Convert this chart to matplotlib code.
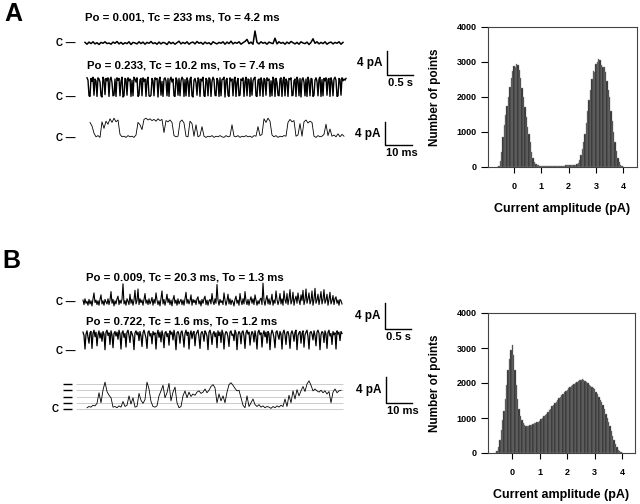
import matplotlib
matplotlib.use('Agg')
import matplotlib.pyplot as plt
import numpy as np

plt.rcParams['font.family'] = ['Liberation Sans', 'DejaVu Sans']
plt.rcParams['font.weight'] = 'bold'
plt.rcParams['axes.labelweight'] = 'bold'

W, H = 640, 504

# ---- panel A traces (pA) ----
a1_title = 'Po = 0.001, Tc = 233 ms, To = 4.2 ms'
a1_trace = [0.1, -0.2, 0.15, -0.1, 0.2, -0.15, 0.05, -0.25, 0.1, -0.05,
            0.2, -0.1, 0.0, -0.2, 0.15, -0.05, 0.25, -0.15, 0.1, -0.2,
            0.05, -0.1, 0.2, -0.25, 0.1, 0.0, -0.15, 0.2, -0.1, 0.15,
            -0.2, 0.1, -0.05, 0.25, -0.1, 0.05, -0.2, 0.15, -0.15, 0.1,
            0.0, -0.25, 0.2, -0.1, 0.1, -0.2, 0.05, 0.3, -0.15, 0.1,
            -0.1, 0.2, -0.2, 0.05, 0.15, -0.15, 0.25, -0.05, 0.1, -0.2,
            0.15, -0.1, 0.05, -0.25, 0.2, 0.0, -0.15, 0.1, -0.05, 0.2,
            -0.2, 0.15, -0.1, 0.3, -0.15, 0.1, -0.05, 0.2, -0.2, 0.05,
            0.25, 0.6, -0.1, 0.15, -0.2, 2.0, 0.1, -0.15, 0.2, -0.05,
            0.1, -0.2, 0.15, 0.0, -0.1, 0.8, -0.15, 0.2, -0.05, 0.1,
            -0.2, 0.15, -0.1, 0.25, 0.05, -0.15, 0.1, -0.2, 0.2, 0.0,
            -0.1, 0.15, -0.25, 0.1, 0.7, -0.05, 0.2, -0.15, 0.1, -0.1,
            0.2, -0.2, 0.05, 0.15, -0.15, 0.1, -0.05, 0.2, -0.2, 0.1]

a2_title = 'Po = 0.233, Tc = 10.2 ms, To = 7.4 ms'
a2_trace = [3.2, 2.8, 0.2, 0.1, 3.1, 2.6, 3.3, 0.3, 3.0, 2.7, 0.1, 3.2, 3.0, 2.5, 0.2, 0.0, 3.3, 2.9, 0.4, 3.1,
            2.7, 3.2, 0.1, 2.9, 3.3, 2.4, 0.2, 0.3, 3.0, 0.1, 3.2, 2.8, 3.1, 0.2, 2.6, 3.3, 0.0, 0.2, 3.1, 2.9,
            0.3, 3.2, 2.7, 3.0, 0.1, 2.8, 0.2, 3.3, 3.0, 2.5, 3.2, 0.1, 0.3, 2.9, 3.1, 0.2, 3.2, 2.6, 3.0, 0.1,
            2.8, 3.3, 0.2, 0.1, 0.3, 3.1, 2.7, 0.2, 3.2, 2.9, 3.1, 0.0, 2.8, 3.3, 0.3, 2.6, 0.1, 3.0, 3.2, 2.7,
            0.2, 3.1, 0.1, 2.9, 3.3, 2.5, 3.0, 0.2, 0.1, 3.2, 2.8, 0.3, 3.1, 0.2, 2.7, 3.3, 3.0, 0.1, 2.9, 0.2,
            3.2, 2.6, 0.1, 3.0, 3.3, 0.2, 0.0, 2.8, 3.1, 2.4, 0.3, 3.2, 2.9, 0.1, 3.0, 2.7, 3.3, 0.2, 0.1, 3.1,
            2.8, 0.2, 3.2, 3.0, 0.1, 2.6, 3.3, 2.9, 0.3, 0.2, 3.1, 2.7, 0.1, 3.2, 0.2, 2.9, 3.0, 3.3, 0.0, 2.8,
            3.1, 0.3, 0.1, 3.2, 2.7, 3.0, 0.2, 2.9, 3.3, 0.1, 2.5, 3.1, 0.2, 0.3, 3.0, 2.8, 3.2, 0.1, 2.6, 3.3,
            0.2, 3.0, 2.9, 0.1, 3.2, 0.3, 2.7, 3.1, 3.3, 0.2, 0.1, 2.8, 3.0, 0.2, 3.2, 2.6, 0.1, 3.1, 2.9, 0.3,
            3.2, 2.8, 3.0, 0.1, 2.7, 0.2, 3.3, 2.9, 0.1, 3.1, 2.4, 0.3, 0.2, 3.0, 3.2, 0.1, 2.8, 3.3, 0.2, 3.0,
            2.6, 0.1, 3.1, 2.9, 3.2, 0.2, 0.3, 2.7, 3.0, 0.1, 3.3, 2.8, 0.2, 3.1, 0.0, 2.9, 3.2, 2.5, 0.2, 3.0,
            0.1, 3.3, 2.7, 0.2, 3.1, 3.0, 0.1, 0.3, 2.8, 3.2, 2.6, 0.2, 3.0, 3.3, 0.1, 2.9, 0.2, 3.1, 2.7, 3.2,
            0.3, 2.9, 3.1, 0.1, 3.2, 2.6, 0.2, 3.0, 3.3, 2.8, 0.1, 0.2, 3.1, 2.9, 0.3, 3.2, 2.7, 3.0, 2.8, 3.1]

a3_trace = [2.6, 2.0, 0.8, 0.2, 0.4, 0.1, 2.7, 1.6, 2.8, 2.3,
            3.2, 2.6, 3.3, 2.7, 3.0, 0.6, 0.2, 0.3, 0.1, 0.4,
            0.2, 0.3, 0.1, 0.5, 2.6, 2.2, 1.4, 3.1, 3.3, 3.0,
            3.2, 2.9, 3.1, 2.8, 3.2, 2.9, 3.1, 0.9, 2.9, 2.7,
            3.0, 2.6, 0.4, 0.2, 0.3, 2.7, 3.0, 2.5, 0.3, 0.2,
            2.8, 2.4, 0.3, 2.2, 0.2, 0.4, 1.9, 0.3, 0.1, 0.3,
            0.2, 0.4, 0.1, 0.3, 0.2, 0.4, 0.2, 0.1, 0.4, 0.2,
            0.3, 2.2, 0.3, 0.2, 0.4, 0.1, 0.3, 0.2, 0.4, 0.2,
            0.3, 0.1, 0.4, 0.3, 1.9, 0.4, 0.6, 3.2, 2.6, 3.3,
            2.8, 0.5, 0.2, 0.4, 0.1, 0.3, 0.2, 0.4, 0.3, 2.6,
            3.1, 2.7, 2.9, 0.3, 0.5, 2.4, 0.3, 2.7, 3.0, 2.5,
            2.8, 2.6, 0.3, 0.1, 0.4, 0.2, 0.3, 0.6, 2.3, 0.4,
            1.5, 0.3, 0.5, 0.2, 0.7, 0.2, 0.6, 0.3]

# ---- panel B traces (pA) ----
b1_title = 'Po = 0.009, Tc = 20.3 ms, To = 1.3 ms'
b1_trace = [0.3, -0.4, 0.5, -0.2, 0.1, -0.5, 0.4, -0.3, 0.2, -0.6, 0.5, 1.4, -0.1, 0.3, -0.4, 0.2, -0.5, 0.4, 1.1, -0.3,
            0.2, -0.5, 0.4, 0.0, -0.3, 0.5, -0.4, 0.3, 1.6, -0.2, 0.4, -0.6, 0.2, -0.3, 0.5, 0.9, -0.4, 0.3, -0.2, 0.4,
            2.8, -0.3, 0.2, -0.5, 0.5, 0.1, -0.4, 1.2, -0.2, 0.4, -0.5, 0.3, 1.8, -0.3, 0.2, 2.0, -0.4, 0.5, -0.1, 0.3,
            -0.5, 0.4, 1.3, -0.2, 0.3, -0.4, 0.5, -0.3, 0.1, 0.7, -0.5, 0.4, -0.2, 1.4, 0.3, -0.4, 0.2, -0.6, 0.5, 1.7,
            -0.3, 0.4, -0.5, 0.2, 1.2, -0.1, 0.5, -0.4, 0.3, -0.6, 0.4, 1.0, -0.2, 0.3, -0.5, 0.5, -0.3, 0.1, 0.4, -0.4,
            0.3, -0.5, 0.5, 1.5, -0.2, 0.4, -0.3, 0.2, 1.1, -0.5, 0.4, -0.1, 0.3, -0.4, 0.5, 0.8, -0.3, 0.2, -0.6, 0.4,
            -0.2, 0.5, 0.9, -0.4, 0.3, -0.5, 0.2, 0.4, -0.3, 1.3, 0.1, -0.4, 0.5, -0.2, 2.7, 0.3, -0.5, 0.4, -0.1, 0.2,
            -0.4, 1.4, 0.3, -0.5, 0.2, 1.2, -0.3, 0.5, -0.4, 0.3, 0.0, -0.6, 0.4, 0.9, -0.2, 0.3, -0.5, 1.3, 0.2, -0.4,
            0.5, -0.3, 1.6, 0.2, -0.4, 0.4, -0.5, 0.3, 0.8, -0.2, 0.5, -0.4, 1.1, 0.3, -0.5, 0.2, -0.3, 0.4, 0.6, -0.4,
            2.9, 0.2, -0.5, 0.4, 1.0, -0.3, 0.5, -0.4, 0.2, 1.2, -0.5, 0.3, -0.2, 1.7, 0.4, -0.4, 0.2, 1.3, -0.3, 0.5,
            -0.5, 1.7, 0.3, -0.2, 1.3, -0.4, 0.5, 1.9, -0.3, 0.2, 1.5, -0.5, 0.4, 0.9, -0.2, 1.4, 0.3, -0.4, 1.1, 0.2,
            1.8, -0.4, 0.3, 2.0, -0.2, 0.5, 1.4, -0.3, 0.2, 1.7, -0.5, 0.4, 2.1, -0.2, 0.3, 1.2, -0.4, 0.5, 1.6, -0.3,
            0.4, 1.9, -0.2, 0.3, 1.2, -0.5, 0.4, 1.5, -0.3, 0.2, 1.0, -0.4, 0.5, 0.8, -0.2, 0.3, -0.5, 0.4, 0.2, -0.3]

b2_title = 'Po = 0.722, Tc = 1.6 ms, To = 1.2 ms'
b2_trace = [2.9, 2.4, 0.3, 2.6, 3.1, 2.2, 1.2, 2.8, 3.0, 0.4, 2.7, 3.2, 2.2, 2.9, 0.8, 2.5, 3.1, 2.0, 2.8, 1.5,
            3.0, 2.6, 0.2, 2.9, 3.2, 2.4, 2.8, 1.0, 3.1, 2.5, 0.5, 2.7, 3.0, 2.3, 2.9, 1.8, 3.2, 2.6, 0.3, 2.8,
            3.1, 2.1, 2.7, 0.6, 2.9, 3.2, 2.4, 1.3, 3.0, 2.7, 2.2, 0.2, 2.8, 3.1, 2.5, 2.9, 1.6, 3.0, 2.3, 0.7,
            2.8, 3.2, 2.6, 2.0, 0.4, 2.9, 3.1, 2.3, 2.7, 1.1, 3.0, 2.5, 2.8, 0.3, 2.6, 3.2, 2.1, 2.9, 1.4, 3.1,
            2.4, 0.5, 2.8, 3.0, 2.2, 2.7, 0.9, 3.1, 2.6, 2.9, 1.7, 3.2, 2.3, 0.2, 2.8, 3.0, 2.5, 1.2, 2.9, 3.1,
            2.2, 0.6, 2.7, 3.2, 2.4, 2.9, 0.3, 2.6, 3.1, 1.9, 2.8, 3.0, 0.8, 2.5, 2.9, 3.2, 2.1, 0.4, 2.7, 3.0,
            2.6, 1.5, 3.1, 2.8, 2.3, 0.2, 2.9, 3.2, 2.5, 1.0, 2.7, 3.0, 2.2, 2.8, 0.5, 3.1, 2.4, 2.9, 1.3, 3.2,
            2.7, 0.3, 2.5, 3.0, 2.8, 2.1, 0.7, 2.9, 3.1, 2.4, 2.6, 1.6, 3.2, 2.8, 0.2, 2.5, 3.0, 2.7, 1.1, 2.9,
            3.1, 2.3, 0.4, 2.8, 3.2, 2.6, 2.9, 0.9, 2.4, 3.0, 2.7, 1.4, 3.1, 2.2, 0.3, 2.9, 3.2, 2.5, 2.8, 0.6,
            2.6, 3.1, 2.2, 2.9, 1.2, 3.0, 2.7, 0.2, 2.5, 3.2, 2.8, 2.0, 0.5, 2.9, 3.1, 2.4, 1.8, 3.0, 2.6, 0.3,
            2.8, 3.2, 2.5, 1.0, 2.9, 3.0, 2.3, 0.4, 2.7, 3.1, 2.6, 1.5, 2.9, 3.2, 0.2, 2.4, 2.8, 3.0, 1.2, 2.7,
            3.1, 0.6, 2.5, 2.9, 3.2, 2.2, 0.3, 2.8, 3.0, 2.6, 1.7, 3.1, 2.4, 0.8, 2.9, 3.2, 2.7, 0.2, 2.5, 3.0,
            2.8, 1.3, 3.1, 2.6, 0.4, 2.9, 3.2, 2.3, 2.7, 1.0, 3.0, 2.5, 2.8, 0.3, 3.1, 2.6, 2.9, 1.6, 3.0, 2.7]

b3_trace = [0.2, 0.4, 0.3, 0.6, 0.5, 0.9, 2.6, 1.0, 3.0, 4.3,
            2.8, 2.2, 1.8, 0.3, 0.4, 0.2, 0.5, 0.3, 1.2, 0.4,
            0.6, 2.1, 0.8, 1.8, 0.3, 0.4, 2.5, 1.4, 0.9, 1.5,
            4.3, 3.2, 1.2, 0.4, 0.3, 0.5, 2.1, 2.9, 3.8, 1.8,
            2.6, 4.1, 1.3, 2.7, 3.5, 1.0, 0.2, 0.4, 2.1, 2.9,
            1.8, 2.7, 2.0, 2.4, 2.2, 2.7, 2.9, 2.5, 2.7, 3.2,
            2.6, 3.0, 3.6, 3.9, 3.4, 1.0, 2.4, 1.3, 2.1, 1.0,
            2.7, 3.9, 4.2, 3.8, 3.3, 2.9, 3.0, 1.8, 0.6, 0.2,
            2.1, 0.4, 1.0, 1.6, 0.7, 0.4, 0.7, 0.3, 0.5, 0.2,
            0.4, 0.3, 0.1, 0.4, 0.2, 0.5, 0.3, 0.6, 0.4, 1.6,
            0.4, 2.2, 1.0, 2.9, 1.6, 3.1, 2.1, 2.9, 3.6, 2.8,
            4.0, 4.5, 3.8, 2.9, 3.2, 2.9, 2.7, 3.0, 2.6, 2.9,
            2.4, 2.8, 1.0, 2.7, 3.2, 2.6, 2.9, 3.0]
b3_levels = [0, 1, 2, 3, 4]

# ---- all-points histograms, bins of 0.05 pA from -0.6 to 4.0 ----
hist_step = 0.05
hist_a = [0, 40, 180, 420, 850, 1200, 1480, 1750, 2000, 2280,
          2550, 2750, 2880, 2850, 2950, 2900, 2780, 2550, 2250, 2000,
          1700, 1420, 1150, 950, 700, 420, 260, 150, 90, 60, 45,
          40, 38, 36, 35, 34, 33, 33, 32, 33, 34, 33, 35, 34, 36, 35,
          37, 38, 40, 41, 43, 45, 47, 50, 54, 58, 63, 70,
          80, 120, 200, 330, 500, 720, 950, 1250, 1600, 1900,
          2200, 2500, 2750, 2700, 2950, 3000, 3080, 3050, 2900, 2850,
          2850, 2700, 2450, 2200, 2000, 1600, 1300, 1000, 700, 450,
          260, 130, 60, 20, 0]
hist_b = [0, 60, 170, 380, 650, 950, 1200, 1550, 1950, 2370,
          2700, 2950, 3100, 2800, 2370, 1950, 1550, 1250, 1050, 930,
          860, 810, 780, 770,
          770, 790, 800, 830, 850, 870, 880, 900, 920, 960,
          1000, 1050, 1080, 1120, 1170, 1220, 1270, 1330, 1380, 1430,
          1470, 1520, 1560, 1600, 1650, 1700, 1740, 1770, 1800, 1850,
          1880, 1920, 1950, 1980, 2000, 2030, 2060, 2080, 2100, 2110,
          2090, 2060, 2030, 1990, 1950, 1920, 1880,
          1850, 1820, 1750, 1680, 1600, 1520, 1450, 1380, 1250, 1120,
          1000, 900, 760, 620, 480, 360, 250, 160, 100, 50, 15, 0]
hist_x = np.round(-0.6 + hist_step * np.arange(len(hist_a)), 2)

fig = plt.figure(figsize=(6.4, 5.04), dpi=100)


def px_axes(x0, y0, x1, y1):
    # axes given in pixel coords of the 640x504 picture (y downwards)
    return fig.add_axes([x0 / W, 1 - y1 / H, (x1 - x0) / W, (y1 - y0) / H])


def fig_text(x, y, s, **kw):
    fig.text(x / W, 1 - y / H, s, **kw)


def draw_trace(vals, dt, x0, x1, y_base, ppa, lw=0.8, c_label=True, c_x=75):
    ax = px_axes(x0, y_base - 34, x1, y_base + 8)
    t = np.arange(len(vals)) * dt
    ax.plot(t, vals, color='black', lw=lw, clip_on=False)
    ax.set_xlim(0, t[-1])
    ax.set_ylim(-8 / ppa, 34 / ppa)
    ax.axis('off')
    if c_label:
        fig_text(c_x, y_base, 'C \u2014', ha='right', va='center', fontsize=7)
    return ax


def scale_bar(x0, y_bottom, w_px, h_px, xval, yval, xtxt, ytxt):
    ax = px_axes(x0, y_bottom - h_px, x0 + w_px, y_bottom)
    ax.plot([0, 0, xval], [yval, 0, 0], color='black', lw=1.0, clip_on=False)
    ax.set_xlim(0, xval)
    ax.set_ylim(0, yval)
    ax.axis('off')
    ax.annotate(ytxt, (0, yval / 2), xytext=(-3, 0), textcoords='offset points',
                ha='right', va='center', fontsize=8.5)
    ax.annotate(xtxt, (0, 0), xytext=(1, -2.5), textcoords='offset points',
                ha='left', va='top', fontsize=8)


def histogram(rect, counts, xlim):
    ax = px_axes(*rect)
    ax.bar(hist_x, counts, width=hist_step, color='#2a2a2a',
           edgecolor='#8a8a8a', linewidth=0.3)
    ax.set_xlim(*xlim)
    ax.set_ylim(0, 4000)
    ax.set_xticks([0, 1, 2, 3, 4])
    ax.set_yticks([0, 1000, 2000, 3000, 4000])
    for s in ax.spines.values():
        s.set_color('#444444')
        s.set_linewidth(0.8)
    ax.tick_params(axis='x', length=4, width=0.8, pad=6.5, labelsize=6.5)
    ax.tick_params(axis='y', length=5, width=0.8, pad=3, labelsize=6.5)
    ax.set_ylabel('Number of points', fontsize=8.5)
    ax.set_xlabel('Current amplitude (pA)', fontsize=9)
    w = rect[2] - rect[0]
    h = rect[3] - rect[1]
    ax.yaxis.set_label_coords(-47 / w, 0.5)
    ax.xaxis.set_label_coords(0.5, -36 / h)
    return ax


def main():
    fs_title = 8.2
    # panel letters
    fig_text(4, 14, 'A', fontsize=18, ha='left', va='center')
    fig_text(2, 261, 'B', fontsize=18, ha='left', va='center')

    # --- panel A ---
    dt_s = 0.5 / 26 * 2
    dt_1px = 0.5 / 26
    fig_text(85, 17, a1_title, fontsize=fs_title, va='center')
    draw_trace(a1_trace, dt_s, 85, 343, 43, 6.0, lw=1.1)
    fig_text(87, 66, a2_title, fontsize=fs_title, va='center')
    draw_trace(a2_trace, dt_1px, 87, 346, 97, 6.0, lw=1.0)
    draw_trace(a3_trace, 10 / 27 * 2, 90, 344, 138, 6.0, lw=0.6, c_x=75)
    scale_bar(387, 75, 26, 24, 0.5, 4, '0.5 s', '4 pA')
    scale_bar(385, 145, 27, 23, 10, 4, '10 ms', '4 pA')
    histogram((488, 27, 637, 167), hist_a, (-0.95, 4.5))

    # --- panel B ---
    fig_text(86, 278, b1_title, fontsize=fs_title, va='center')
    draw_trace(b1_trace, dt_1px, 83, 342, 302, 6.5, lw=0.8)
    fig_text(86, 321, b2_title, fontsize=fs_title, va='center')
    draw_trace(b2_trace, dt_1px, 83, 342, 351, 6.5, lw=0.9)
    ax = draw_trace(b3_trace, 10 / 26 * 2, 87, 341, 409, 6.25, lw=0.6, c_label=False)
    trf = ax.get_yaxis_transform()
    ax.hlines(b3_levels, -0.045, 1.008, transform=trf, color='#c4c4c4', lw=0.6,
              clip_on=False, zorder=0)
    ax.hlines(b3_levels, -0.094, -0.058, transform=trf, color='black', lw=1.0,
              clip_on=False)
    fig_text(59, 409, 'C', fontsize=7, ha='right', va='center')
    scale_bar(385, 329, 26, 26, 0.5, 4, '0.5 s', '4 pA')
    scale_bar(386, 403, 26, 26, 10, 4, '10 ms', '4 pA')
    histogram((488, 313, 635, 453), hist_b, (-0.88, 4.46))

    fig.savefig('out.png', dpi=100)


if __name__ == '__main__':
    main()
